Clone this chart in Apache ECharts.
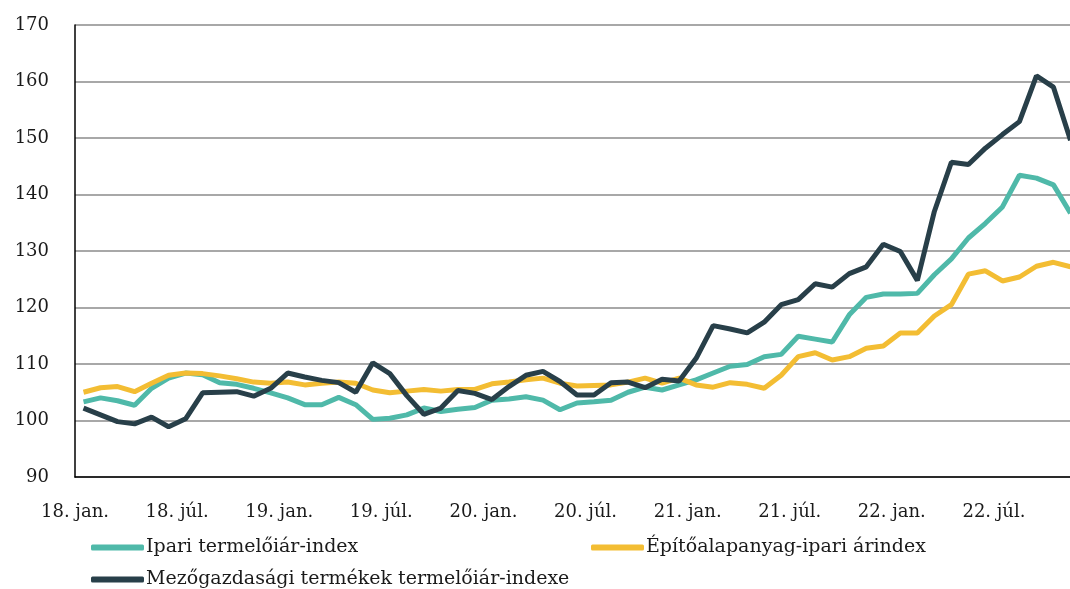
<!DOCTYPE html>
<html>

<head>
    <meta charset="utf-8">
    <title>Termelőiár-indexek</title>
    <script src="https://cdn.jsdelivr.net/npm/echarts@6/dist/echarts.min.js"></script>
</head>

<body style="margin:0">
    <div id="main" style="width: 1070px;height:589px;"></div>
    <script type="text/javascript">
    // hónapok 2018 jan - 2022 nov
    var honapNevek = ['jan.', 'febr.', 'márc.', 'ápr.', 'máj.', 'jún.', 'júl.', 'aug.', 'szept.', 'okt.', 'nov.', 'dec.'];
    var honapok = [];
    for (var ev = 18; ev <= 22; ev++) {
        for (var h = 0; h < 12; h++) {
            if (ev === 22 && h > 10) break;
            honapok.push(ev + '. ' + honapNevek[h]);
        }
    }

    var ipari = [
        103.3, 104.0, 103.5, 102.7, 105.7, 107.5, 108.4, 108.1, 106.7, 106.4, 105.7, 104.9,
        104.0, 102.8, 102.8, 104.1, 102.8, 100.2, 100.4, 101.0, 102.2, 101.6, 102.0, 102.3,
        103.6, 103.8, 104.2, 103.6, 101.9, 103.1, 103.3, 103.6, 105.0, 105.9, 105.4, 106.3,
        107.2, 108.4, 109.6, 109.9, 111.3, 111.7, 114.9, 114.4, 113.9, 118.7, 121.8, 122.4,
        122.4, 122.5, 125.8, 128.6, 132.3, 134.9, 137.8, 143.4, 142.9, 141.7, 136.7
    ];
    var epito = [
        105.0, 105.8, 106.0, 105.1, 106.6, 108.0, 108.4, 108.3, 107.9, 107.4, 106.8, 106.6,
        106.8, 106.3, 106.6, 106.8, 106.6, 105.4, 104.9, 105.2, 105.5, 105.2, 105.5, 105.5,
        106.5, 106.8, 107.2, 107.5, 106.6, 106.1, 106.2, 106.3, 106.8, 107.5, 106.6, 107.5,
        106.3, 105.9, 106.7, 106.4, 105.7, 108.0, 111.3, 112.0, 110.7, 111.3, 112.8, 113.2,
        115.5, 115.5, 118.5, 120.5, 125.9, 126.5, 124.7, 125.4, 127.3, 128.0, 127.2
    ];
    var mezogazdasagi = [
        102.2, 101.0, 99.8, 99.4, 100.6, 98.9, 100.3, 104.9, 105.0, 105.1, 104.3, 105.7,
        108.4, 107.7, 107.1, 106.7, 105.0, 110.2, 108.3, 104.4, 101.1, 102.2, 105.3, 104.8,
        103.7, 106.0, 108.0, 108.7, 106.9, 104.5, 104.5, 106.7, 106.8, 105.8, 107.3, 107.0,
        111.0, 116.8, 116.2, 115.5, 117.4, 120.5, 121.4, 124.2, 123.6, 126.0, 127.2, 131.2,
        129.9, 124.8, 137.0, 145.7, 145.3, 148.2, 150.6, 152.9, 161.0, 159.0, 149.6
    ];

    var nevek = ['Ipari termelőiár-index', 'Építőalapanyag-ipari árindex', 'Mezőgazdasági termékek termelőiár-indexe'];
    var szinek = ['#4fb9a9', '#f3bd33', '#283f49'];

    var betu = 'DejaVu Serif';
    var myChart = echarts.init(document.getElementById('main'));

    var legendBase = {
        itemWidth: 53,
        itemHeight: 6,
        icon: 'roundRect',
        itemGap: 0,
        textStyle: { fontFamily: betu, fontSize: 19, color: '#1a1a1a', padding: [0, 0, 0, -3] }
    };

    var option = {
        animation: false,
        textStyle: { fontFamily: betu },
        legend: [
            Object.assign({ data: [nevek[0]], left: 86, top: 533 }, legendBase),
            Object.assign({ data: [nevek[1]], left: 586, top: 533 }, legendBase),
            Object.assign({ data: [nevek[2]], left: 86, top: 565 }, legendBase)
        ],
        // a jobb szél túllóg a képen, így az utolsó pont a szélre esik
        grid: { left: 75, top: 25, width: 1004, bottom: 112, containLabel: false, outerBoundsMode: 'none' },
        xAxis: [{
            type: 'category',
            data: honapok,
            boundaryGap: true,
            axisLine: { lineStyle: { color: '#000', width: 1.5 } },
            axisTick: { interval: 2, length: 5, lineStyle: { color: '#000', width: 1.5 } },
            axisLabel: {
                interval: 5,
                margin: 26,
                fontFamily: betu,
                fontSize: 18,
                color: '#1a1a1a',
                padding: [0, 17, 0, 0]
            },
            splitLine: { show: false }
        }, {
            type: 'category',
            data: honapok,
            boundaryGap: true,
            position: 'bottom',
            axisLine: { show: false },
            axisTick: { interval: 5, length: 7, lineStyle: { color: '#000', width: 2 } },
            axisLabel: { show: false },
            splitLine: { show: false }
        }],
        yAxis: {
            type: 'value',
            min: 90,
            max: 170,
            interval: 10,
            axisLine: { show: true, lineStyle: { color: '#000', width: 1.5 } },
            axisTick: { show: false },
            axisLabel: { margin: 26, fontFamily: betu, fontSize: 18, color: '#1a1a1a' },
            splitLine: { lineStyle: { color: '#a8a8a8', width: 2 } }
        },
        series: [ipari, epito, mezogazdasagi].map(function (adat, i) {
            return {
                name: nevek[i],
                type: 'line',
                data: adat,
                showSymbol: false,
                symbol: 'none',
                color: szinek[i],
                lineStyle: { width: 5, color: szinek[i] },
                z: 2 + i
            };
        })
    };

    myChart.setOption(option);
    </script>
</body>

</html>
